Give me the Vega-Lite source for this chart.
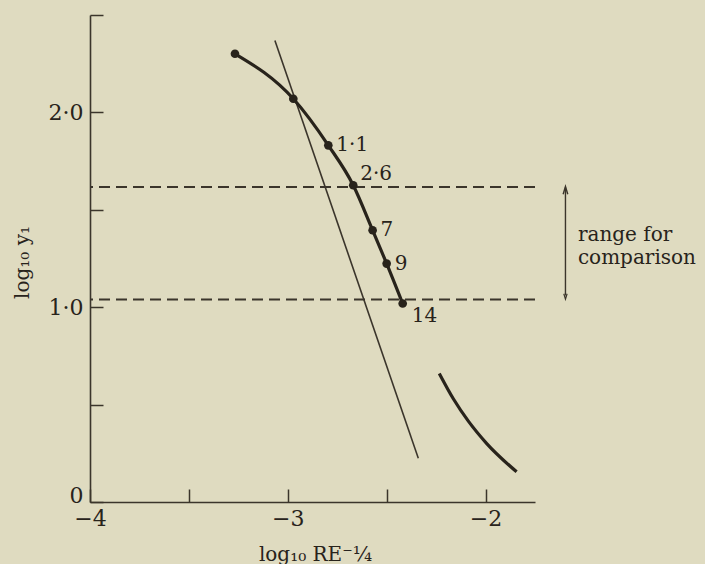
{
  "$schema": "https://vega.github.io/schema/vega-lite/v6.json",
  "width": 445,
  "height": 487,
  "autosize": {"type": "none"},
  "padding": {"left": 90, "top": 15, "right": 170, "bottom": 62},
  "background": "#dfdbc0",
  "config": {
    "view": {"stroke": null},
    "font": "DejaVu Serif",
    "axis": {
      "domainColor": "#3b352b",
      "domainWidth": 1.6,
      "tickColor": "#3b352b",
      "tickWidth": 1.5,
      "tickSize": -13,
      "grid": false,
      "labelFlush": false,
      "labelColor": "#28231b",
      "labelFont": "DejaVu Serif",
      "labelFontSize": 22,
      "titleColor": "#28231b",
      "titleFont": "DejaVu Serif",
      "titleFontSize": 20,
      "titleFontWeight": "normal"
    }
  },
  "datasets": {
    "main": [
      {"x": -3.267, "y": 2.301, "label": ""},
      {"x": -2.972, "y": 2.070, "label": ""},
      {"x": -2.795, "y": 1.831, "label": "1·1"},
      {"x": -2.669, "y": 1.626, "label": "2·6"},
      {"x": -2.571, "y": 1.395, "label": "7"},
      {"x": -2.500, "y": 1.224, "label": "9"},
      {"x": -2.419, "y": 1.019, "label": "14"}
    ],
    "straight": [
      {"x": -3.065, "y": 2.369},
      {"x": -2.340, "y": 0.224}
    ],
    "right": [
      {"x": -2.234, "y": 0.660},
      {"x": -2.163, "y": 0.530},
      {"x": -2.087, "y": 0.415},
      {"x": -1.994, "y": 0.300},
      {"x": -1.843, "y": 0.155}
    ],
    "hlines": [{"y": 1.617}, {"y": 1.039}],
    "arrow": [{"x": -1.596, "y": 1.06, "y2": 1.615}],
    "arrowTop": [{"x": -1.596, "y": 1.6}],
    "arrowBottom": [{"x": -1.596, "y": 1.055}],
    "note": [
      {"x": -1.533, "y": 1.372, "text": "range for"},
      {"x": -1.533, "y": 1.254, "text": "comparison"}
    ]
  },
  "layer": [
    {
      "data": {"name": "hlines"},
      "mark": {"type": "rule", "color": "#3b352b", "strokeWidth": 2, "strokeDash": [11, 6]},
      "encoding": {
        "y": {
          "field": "y", "type": "quantitative",
          "scale": {"domain": [0, 2.5], "nice": false, "zero": false},
          "axis": {
            "values": [0, 0.5, 1, 1.5, 2, 2.5],
            "labelExpr": "datum.value == 2 ? '2·0' : datum.value == 1 ? '1·0' : datum.value == 0 ? '0' : ''",
            "labelPadding": 20,
            "labelBaseline": {"condition": {"test": "datum.value == 0", "value": "alphabetic"}, "value": "middle"},
            "title": "log₁₀ y₁",
            "titleAngle": -90,
            "titleX": -68,
            "titleY": 247,
            "titleAlign": "center",
            "titleBaseline": "middle"
          }
        }
      }
    },
    {
      "data": {"name": "straight"},
      "mark": {"type": "line", "color": "#3b352b", "strokeWidth": 1.6},
      "encoding": {
        "x": {
          "field": "x", "type": "quantitative",
          "scale": {"domain": [-4, -1.75], "nice": false, "zero": false},
          "axis": {
            "values": [-4, -3.5, -3, -2.5, -2],
            "labelExpr": "datum.value == -4 ? '−4' : datum.value == -3 ? '−3' : datum.value == -2 ? '−2' : ''",
            "labelPadding": 19,
            "title": "log₁₀ RE⁻¼",
            "titleX": 225,
            "titleY": 52,
            "titleAlign": "center",
            "titleBaseline": "middle"
          }
        },
        "y": {"field": "y", "type": "quantitative"}
      }
    },
    {
      "data": {"name": "main"},
      "mark": {"type": "line", "color": "#28231b", "strokeWidth": 3.2, "interpolate": "monotone"},
      "encoding": {
        "x": {"field": "x", "type": "quantitative"},
        "y": {"field": "y", "type": "quantitative"}
      }
    },
    {
      "data": {"name": "right"},
      "mark": {"type": "line", "color": "#28231b", "strokeWidth": 3.2, "interpolate": "monotone"},
      "encoding": {
        "x": {"field": "x", "type": "quantitative"},
        "y": {"field": "y", "type": "quantitative"}
      }
    },
    {
      "data": {"name": "main"},
      "mark": {"type": "point", "filled": true, "color": "#28231b", "size": 75, "opacity": 1},
      "encoding": {
        "x": {"field": "x", "type": "quantitative"},
        "y": {"field": "y", "type": "quantitative"}
      }
    },
    {
      "data": {"name": "main"},
      "transform": [{"filter": "datum.label == '1·1' || datum.label == '7' || datum.label == '9'"}],
      "mark": {"type": "text", "align": "left", "baseline": "middle", "dx": 8, "fontSize": 20, "color": "#28231b"},
      "encoding": {
        "x": {"field": "x", "type": "quantitative"},
        "y": {"field": "y", "type": "quantitative"},
        "text": {"field": "label"}
      }
    },
    {
      "data": {"name": "main"},
      "transform": [{"filter": "datum.label == '2·6'"}],
      "mark": {"type": "text", "align": "left", "baseline": "middle", "dx": 7, "dy": -11, "fontSize": 20, "color": "#28231b"},
      "encoding": {
        "x": {"field": "x", "type": "quantitative"},
        "y": {"field": "y", "type": "quantitative"},
        "text": {"field": "label"}
      }
    },
    {
      "data": {"name": "main"},
      "transform": [{"filter": "datum.label == '14'"}],
      "mark": {"type": "text", "align": "left", "baseline": "middle", "dx": 9, "dy": 13, "fontSize": 20, "color": "#28231b"},
      "encoding": {
        "x": {"field": "x", "type": "quantitative"},
        "y": {"field": "y", "type": "quantitative"},
        "text": {"field": "label"}
      }
    },
    {
      "data": {"name": "arrow"},
      "mark": {"type": "rule", "color": "#3b352b", "strokeWidth": 1.4},
      "encoding": {
        "x": {"field": "x", "type": "quantitative"},
        "y": {"field": "y", "type": "quantitative"},
        "y2": {"field": "y2"}
      }
    },
    {
      "data": {"name": "arrowTop"},
      "mark": {"type": "point", "shape": "M-0.6,1L0,-1L0.6,1", "filled": false, "color": "#3b352b", "strokeWidth": 1.4, "size": 60, "opacity": 1},
      "encoding": {
        "x": {"field": "x", "type": "quantitative"},
        "y": {"field": "y", "type": "quantitative"}
      }
    },
    {
      "data": {"name": "arrowBottom"},
      "mark": {"type": "point", "shape": "M-0.6,-1L0,1L0.6,-1", "filled": false, "color": "#3b352b", "strokeWidth": 1.2, "size": 30, "opacity": 1},
      "encoding": {
        "x": {"field": "x", "type": "quantitative"},
        "y": {"field": "y", "type": "quantitative"}
      }
    },
    {
      "data": {"name": "note"},
      "mark": {"type": "text", "align": "left", "baseline": "middle", "fontSize": 20, "color": "#28231b"},
      "encoding": {
        "x": {"field": "x", "type": "quantitative"},
        "y": {"field": "y", "type": "quantitative"},
        "text": {"field": "text"}
      }
    }
  ]
}
